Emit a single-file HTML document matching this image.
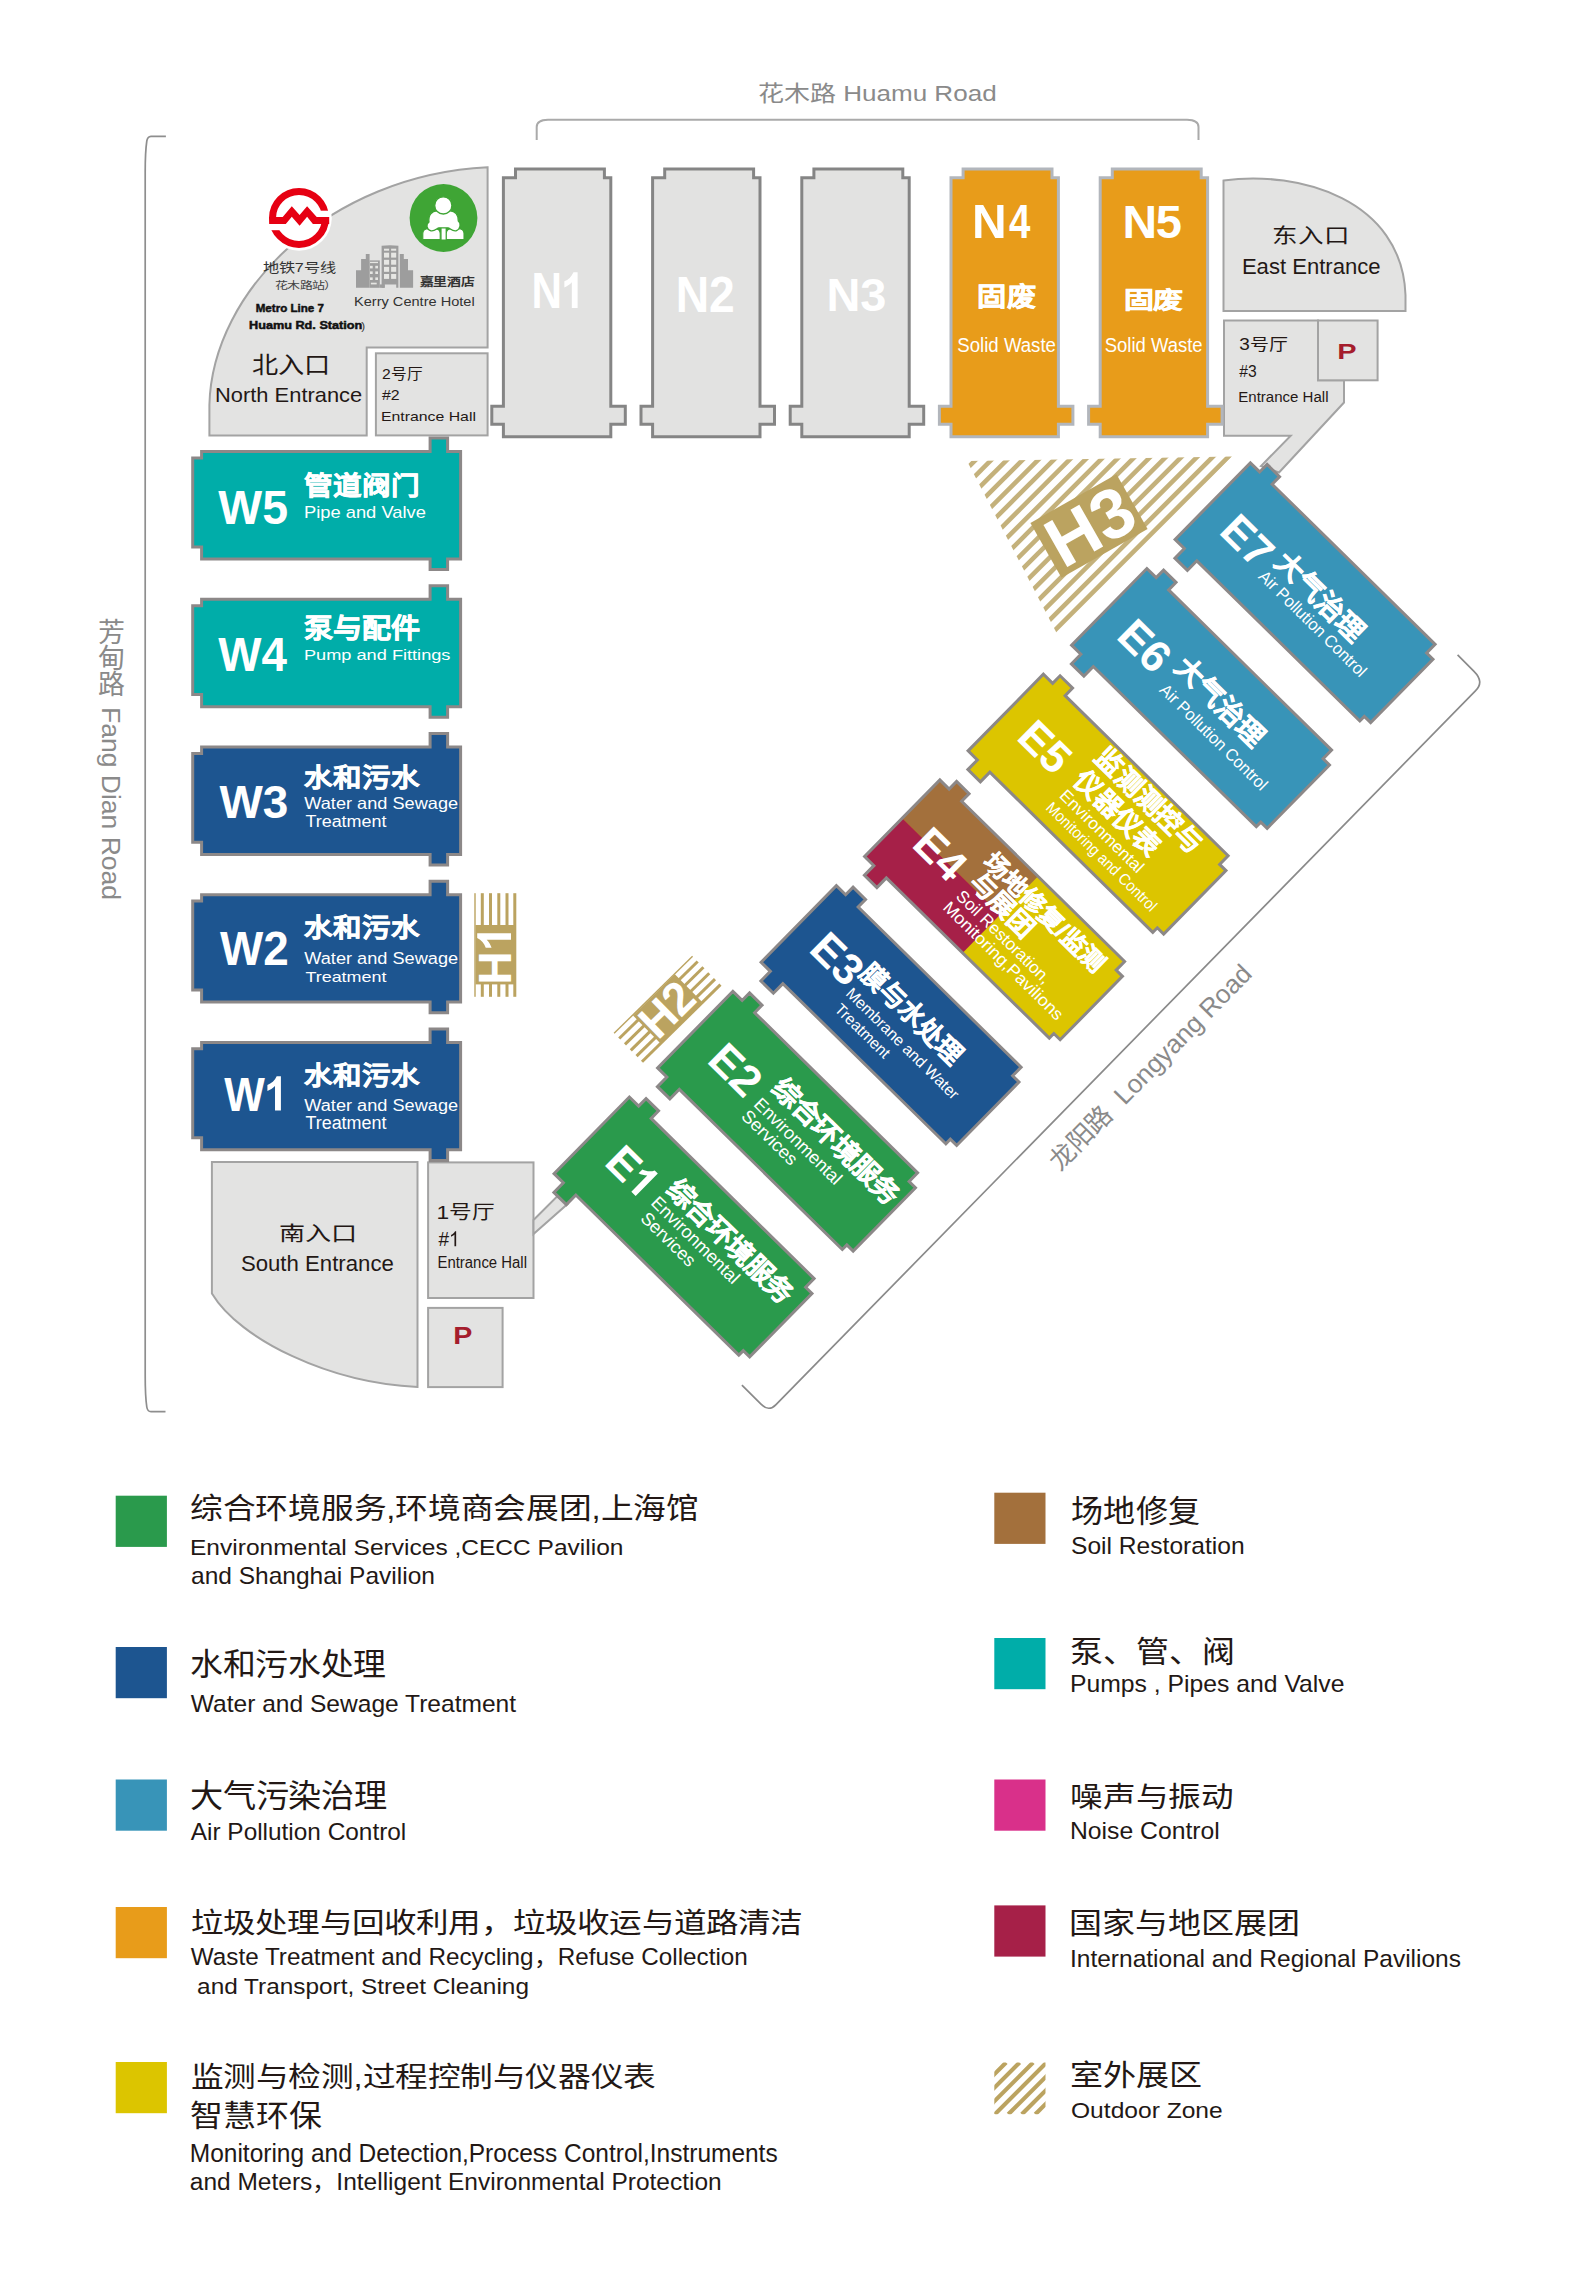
<!DOCTYPE html><html lang="zh-CN"><head><meta charset="utf-8"><style>
html,body{margin:0;padding:0;background:#fff;}
svg{display:block;font-family:'Liberation Sans', sans-serif;}
</style></head><body>
<svg width="1575" height="2283" viewBox="0 0 1575 2283">
<path d="M536.7,140 V127 Q536.7,120 548,119.8 H1187 Q1198.5,120 1198.5,127 V140" fill="none" stroke="#aaaaaa" stroke-width="2"/>
<path d="M165.9,136.3 H151 Q147.5,136.5 146.8,141 Q145.2,152 145.2,172 V1376 Q145.2,1396 146.8,1407 Q147.5,1411.5 151,1411.7 H165.5" fill="none" stroke="#8e8e8e" stroke-width="1.7"/>
<path d="M741.9,1385.1 L761,1404.2 Q768.9,1412.1 776,1404.6 L1475.4,690.9 Q1484.7,682 1474,671.3 L1457.6,654.9" fill="none" stroke="#8a8a8a" stroke-width="1.7"/>
<text x="758.00" y="100.75" font-size="22.06" font-weight="normal" fill="#8a8a8a" textLength="238.62" lengthAdjust="spacingAndGlyphs" >花木路 Huamu Road</text>
<g fill="#8a8a8a" font-size="26">
<text x="111.2" y="642.0" text-anchor="middle" font-size="27">芳</text>
<text x="111.2" y="667.8" text-anchor="middle" font-size="27">甸</text>
<text x="111.2" y="693.6" text-anchor="middle" font-size="27">路</text>
<text transform="translate(101.5,707) rotate(90)" font-size="26" textLength="193" lengthAdjust="spacingAndGlyphs">Fang Dian Road</text>
</g>
<text transform="translate(1060,1172) rotate(-45.5)" font-size="26" fill="#8a8a8a" xml:space="preserve">龙阳路  Longyang Road</text>
<path d="M209.4,435.4 V405 C212,290 330,175 487.6,167.3 V347.4 H366.7 V435.4 Z" fill="#e3e3e2" stroke="#a3a3a3" stroke-width="2"/>
<rect x="375.9" y="353.3" width="111.7" height="82.1" fill="#e3e3e2" stroke="#a3a3a3" stroke-width="2"/>
<circle cx="299" cy="217.9" r="32.8" fill="#fff"/>
<circle cx="299" cy="217.9" r="26.5" fill="none" stroke="#e60012" stroke-width="7"/>
<rect x="299" y="210.7" width="32" height="6.4" fill="#fff"/>
<rect x="266" y="224.0" width="33" height="6.2" fill="#fff"/>
<polygon fill="#e60012" points="269.3,217.1 282.7,217.1 291.8,206.2 299.6,215.1 307.1,206.2 316.7,217.1 329.2,217.1 329.2,224.0 312.9,224.0 307.1,216.7 299.6,225.8 291.8,216.7 285.8,224.0 269.3,224.0"/>
<circle cx="443.5" cy="218" r="33.9" fill="#3fa535"/>
<g fill="#fff" stroke="#3fa535" stroke-width="1.1">
<path d="M422.8,239.6 V233.6 C422.8,230.6 425,228.8 428.5,228.8 H434.5 C438,228.8 440.2,230.6 440.2,233.6 V239.6 Z"/>
<path d="M446.3,239.6 V233.6 C446.3,230.6 448.5,228.8 452,228.8 H458.3 C461.8,228.8 464,230.6 464,233.6 V239.6 Z"/>
</g>
<rect x="441.6" y="227.5" width="4" height="12" fill="#fff"/>
<path d="M429,222 C428,215 432,210.8 437,210.8 H450 C455,210.8 458.6,215 458.3,221 C461,223 461,229 456,230.8 C452,231.5 450,228 448,227.8 H439 C437,228 435,231.5 431,230.8 C426,229.5 426,224 429,222 Z" fill="#fff" stroke="#3fa535" stroke-width="1.3"/>
<circle cx="443.3" cy="205.4" r="8.6" fill="#fff" stroke="#3fa535" stroke-width="1.3"/>
<g fill="#9d9d9d">
<path d="M356,287.8 V270.2 H361.1 V259.1 H365.8 V254 H369.6 V287.8 Z"/>
<rect x="369.6" y="260.4" width="10.2" height="27.4"/>
<rect x="379.8" y="284.4" width="4.9" height="3.4"/>
<path d="M381.6,287.8 V245.8 Q390,244.9 398.4,245.8 V287.8 H396.2 V284.4 H384.7 V287.8 Z"/>
<path d="M399.8,287.8 V254 H403.8 V259.1 H408 V270.2 H413.1 V287.8 Z"/>
</g>
<g fill="#e6e6e3">
<rect x="370.0" y="265.8" width="2.7" height="2.6"/>
<rect x="370.0" y="271.4" width="2.7" height="2.6"/>
<rect x="370.0" y="277.4" width="2.7" height="2.6"/>
<rect x="375.3" y="265.8" width="2.7" height="2.6"/>
<rect x="375.3" y="271.4" width="2.7" height="2.6"/>
<rect x="375.3" y="277.4" width="2.7" height="2.6"/>
<rect x="370" y="261.8" width="8" height="1.3"/>
<rect x="370.9" y="282.7" width="5.8" height="1.7"/>
<rect x="384.0" y="248.7" width="5.1" height="2"/>
<rect x="384.0" y="252.7" width="5.1" height="4.9"/>
<rect x="384.0" y="259.8" width="5.1" height="4.9"/>
<rect x="384.0" y="266.9" width="5.1" height="4.9"/>
<rect x="384.0" y="274.0" width="5.1" height="4.9"/>
<rect x="391.1" y="248.7" width="5.1" height="2"/>
<rect x="391.1" y="252.7" width="5.1" height="4.9"/>
<rect x="391.1" y="259.8" width="5.1" height="4.9"/>
<rect x="391.1" y="266.9" width="5.1" height="4.9"/>
<rect x="391.1" y="274.0" width="5.1" height="4.9"/>
</g>
<text x="262.50" y="271.90" font-size="13.05" font-weight="normal" fill="#333" textLength="73.54" lengthAdjust="spacingAndGlyphs" >地铁7号线</text>
<text x="274.90" y="289.45" font-size="10.51" font-weight="normal" fill="#444" textLength="61.80" lengthAdjust="spacingAndGlyphs" >花木路站）</text>
<text x="419.80" y="285.92" font-size="11.20" font-weight="bold" fill="#333" textLength="54.40" lengthAdjust="spacingAndGlyphs" >嘉里酒店</text>
<text x="354.00" y="305.70" font-size="12.94" font-weight="normal" fill="#333" textLength="120.68" lengthAdjust="spacingAndGlyphs" >Kerry Centre Hotel</text>
<text x="252.40" y="372.92" font-size="23.20" font-weight="normal" fill="#231815" textLength="77.80" lengthAdjust="spacingAndGlyphs" >北入口</text>
<text x="215.00" y="402.20" font-size="21.00" font-weight="normal" fill="#231815" textLength="147.25" lengthAdjust="spacingAndGlyphs" >North Entrance</text>
<text x="381.90" y="378.83" font-size="14.82" font-weight="normal" fill="#231815" textLength="40.54" lengthAdjust="spacingAndGlyphs" >2号厅</text>
<text x="381.90" y="400.40" font-size="15.32" font-weight="normal" fill="#231815" textLength="17.69" lengthAdjust="spacingAndGlyphs" >#2</text>
<text x="380.90" y="421.40" font-size="13.47" font-weight="normal" fill="#231815" textLength="95.05" lengthAdjust="spacingAndGlyphs" >Entrance Hall</text>
<text x="255.70" y="312.30" font-size="10.63" font-weight="bold" fill="#111" textLength="68.24" lengthAdjust="spacingAndGlyphs" stroke="#111" stroke-width="0.45">Metro Line 7</text>
<text x="249.00" y="329.30" font-size="10.09" font-weight="bold" fill="#111" textLength="113.32" lengthAdjust="spacingAndGlyphs" stroke="#111" stroke-width="0.45">Huamu Rd. Station</text>
<text x="361.3" y="329.6" font-size="11.5" fill="#333">)</text>
<path d="M1223.5,180.5 C1300,170 1402,200 1405.5,295 V311 H1223.5 Z" fill="#e3e3e2" stroke="#a3a3a3" stroke-width="2"/>
<path d="M1224,320.5 H1318 V380.3 H1344 V402.5 L1279,472.5 L1261,466 L1290.7,435.7 H1224 Z" fill="#e3e3e2" stroke="#a3a3a3" stroke-width="2"/>
<rect x="1318" y="320.5" width="59.6" height="59.8" fill="#e3e3e2" stroke="#a3a3a3" stroke-width="2"/>
<text x="1272.40" y="242.80" font-size="20.70" font-weight="normal" fill="#231815" textLength="77.60" lengthAdjust="spacingAndGlyphs" >东入口</text>
<text x="1241.90" y="274.40" font-size="21.64" font-weight="normal" fill="#231815" textLength="138.71" lengthAdjust="spacingAndGlyphs" >East Entrance</text>
<text x="1239.30" y="350.18" font-size="15.84" font-weight="normal" fill="#231815" textLength="48.91" lengthAdjust="spacingAndGlyphs" >3号厅</text>
<text x="1239.30" y="377.20" font-size="16.02" font-weight="normal" fill="#231815" textLength="17.40" lengthAdjust="spacingAndGlyphs" >#3</text>
<text x="1238.30" y="401.80" font-size="14.66" font-weight="normal" fill="#231815" textLength="90.21" lengthAdjust="spacingAndGlyphs" >Entrance Hall</text>
<text x="1337.30" y="359.40" font-size="22.60" font-weight="bold" fill="#a51d2d" textLength="19.34" lengthAdjust="spacingAndGlyphs" >P</text>
<rect x="428.1" y="1162.4" width="105.4" height="135.6" fill="#e3e3e2" stroke="#a3a3a3" stroke-width="2"/>
<path d="M533.5,1220 L557,1196.5 L567.5,1204 L533.5,1234 Z" fill="#e3e3e2" stroke="#a3a3a3" stroke-width="2"/>
<path d="M211.9,1161.9 H417.5 V1387 C330,1383 240,1340 211.9,1293.4 Z" fill="#e3e3e2" stroke="#a3a3a3" stroke-width="2"/>
<rect x="428.1" y="1307.9" width="74.5" height="79.2" fill="#e3e3e2" stroke="#a3a3a3" stroke-width="2"/>
<text x="279.00" y="1240.74" font-size="20.25" font-weight="normal" fill="#231815" textLength="77.40" lengthAdjust="spacingAndGlyphs" >南入口</text>
<text x="240.90" y="1270.80" font-size="21.32" font-weight="normal" fill="#231815" textLength="152.97" lengthAdjust="spacingAndGlyphs" >South Entrance</text>
<text x="436.50" y="1218.89" font-size="18.79" font-weight="normal" fill="#231815" textLength="58.58" lengthAdjust="spacingAndGlyphs" >1号厅</text>
<text x="437.50" y="1268.30" font-size="15.84" font-weight="normal" fill="#231815" textLength="89.45" lengthAdjust="spacingAndGlyphs" >Entrance Hall</text>
<text x="453.30" y="1344.00" font-size="24.75" font-weight="bold" fill="#a51d2d" textLength="19.09" lengthAdjust="spacingAndGlyphs" >P</text>
<text x="438.50" y="1246.20" font-size="20.44" font-weight="normal" fill="#231815" textLength="10.57" lengthAdjust="spacingAndGlyphs" >#</text><path d="M0.3726,0 H0.2832 V0.5742 C0.2617,0.5537 0.2334,0.5332 0.1982,0.5127 C0.1631,0.4922 0.1318,0.4771 0.1040,0.4668 V0.5537 C0.1540,0.5771 0.1978,0.6055 0.2354,0.6387 C0.2729,0.6719 0.2995,0.7041 0.3149,0.7354 H0.3726 Z" transform="translate(449.07,1246.20) scale(19.011,-20.439)" fill="#231815"/>
<path d="M0,0 H228.5 V-14.5 H246.5 V0 H259 V107.4 H246.5 V119 H228.5 V107.4 H0 V95.3 H-8.9 V6.4 H0 Z" transform="translate(610.8,177.8) rotate(90)" fill="#e2e2e1" stroke="#858585" stroke-width="3"/>
<path d="M0,0 H228.5 V-14.5 H246.5 V0 H259 V107.4 H246.5 V119 H228.5 V107.4 H0 V95.3 H-8.9 V6.4 H0 Z" transform="translate(760.0,177.8) rotate(90)" fill="#e2e2e1" stroke="#858585" stroke-width="3"/>
<path d="M0,0 H228.5 V-14.5 H246.5 V0 H259 V107.4 H246.5 V119 H228.5 V107.4 H0 V95.3 H-8.9 V6.4 H0 Z" transform="translate(909.1999999999999,177.8) rotate(90)" fill="#e2e2e1" stroke="#858585" stroke-width="3"/>
<path d="M0,0 H228.5 V-14.5 H246.5 V0 H259 V107.4 H246.5 V119 H228.5 V107.4 H0 V95.3 H-8.9 V6.4 H0 Z" transform="translate(1058.3999999999999,177.8) rotate(90)" fill="#e89c1a" stroke="#b2b6bc" stroke-width="3"/>
<path d="M0,0 H228.5 V-14.5 H246.5 V0 H259 V107.4 H246.5 V119 H228.5 V107.4 H0 V95.3 H-8.9 V6.4 H0 Z" transform="translate(1207.6,177.8) rotate(90)" fill="#e89c1a" stroke="#b2b6bc" stroke-width="3"/>
<text x="531.40" y="308.10" font-size="49.84" font-weight="bold" fill="#fff" textLength="30.48" lengthAdjust="spacingAndGlyphs" >N</text><path d="M0.3726,0 H0.2354 V0.517 C0.186,0.470 0.120,0.432 0.0586,0.413 V0.5376 C0.150,0.567 0.232,0.630 0.274,0.719 H0.3726 Z" transform="translate(561.88,308.10) scale(42.222,-49.843)" fill="#fff"/>
<text x="675.70" y="311.50" font-size="49.30" font-weight="bold" fill="#fff" textLength="59.16" lengthAdjust="spacingAndGlyphs" >N2</text>
<text x="826.50" y="311.30" font-size="46.88" font-weight="bold" fill="#fff" textLength="59.96" lengthAdjust="spacingAndGlyphs" >N3</text>
<text x="972.00" y="237.70" font-size="48.72" font-weight="bold" fill="#fff" textLength="34.63" lengthAdjust="spacingAndGlyphs" >N</text>
<text x="1008.90" y="237.70" font-size="48.72" font-weight="bold" fill="#fff" textLength="21.39" lengthAdjust="spacingAndGlyphs" >4</text>
<text x="1122.40" y="237.60" font-size="46.76" font-weight="bold" fill="#fff" textLength="34.63" lengthAdjust="spacingAndGlyphs" >N</text>
<text x="1155.80" y="237.60" font-size="46.76" font-weight="bold" fill="#fff" textLength="26.19" lengthAdjust="spacingAndGlyphs" >5</text>
<text x="957.30" y="351.90" font-size="19.30" font-weight="normal" fill="#fff" textLength="98.67" lengthAdjust="spacingAndGlyphs" >Solid Waste</text>
<text x="1104.70" y="351.80" font-size="19.30" font-weight="normal" fill="#fff" textLength="97.87" lengthAdjust="spacingAndGlyphs" >Solid Waste</text>
<text x="977.40" y="305.55" font-size="25.82" font-weight="bold" fill="#fff" textLength="58.80" lengthAdjust="spacingAndGlyphs" stroke="#fff" stroke-width="0.5">固废</text>
<text x="1123.90" y="307.93" font-size="22.41" font-weight="bold" fill="#fff" textLength="58.80" lengthAdjust="spacingAndGlyphs" stroke="#fff" stroke-width="0.5">固废</text>
<path d="M0,0 H228.5 V-13.5 H246 V0 H259 V107.4 H246 V118 H228.5 V107.4 H0 V95.3 H-8.9 V6.4 H0 Z" transform="translate(201.6,451.6)" fill="#00ada9" stroke="#8c8888" stroke-width="3"/>
<path d="M0,0 H228.5 V-13.5 H246 V0 H259 V107.4 H246 V118 H228.5 V107.4 H0 V95.3 H-8.9 V6.4 H0 Z" transform="translate(201.6,599.3)" fill="#00ada9" stroke="#8c8888" stroke-width="3"/>
<path d="M0,0 H228.5 V-13.5 H246 V0 H259 V107.4 H246 V118 H228.5 V107.4 H0 V95.3 H-8.9 V6.4 H0 Z" transform="translate(201.6,747.0)" fill="#1d5590" stroke="#8c8888" stroke-width="3"/>
<path d="M0,0 H228.5 V-13.5 H246 V0 H259 V107.4 H246 V118 H228.5 V107.4 H0 V95.3 H-8.9 V6.4 H0 Z" transform="translate(201.6,894.7)" fill="#1d5590" stroke="#8c8888" stroke-width="3"/>
<path d="M0,0 H228.5 V-13.5 H246 V0 H259 V107.4 H246 V118 H228.5 V107.4 H0 V95.3 H-8.9 V6.4 H0 Z" transform="translate(201.6,1042.4)" fill="#1d5590" stroke="#8c8888" stroke-width="3"/>
<text x="218.30" y="524.00" font-size="47.77" font-weight="bold" fill="#fff" textLength="69.70" lengthAdjust="spacingAndGlyphs" >W5</text>
<text x="218.30" y="671.40" font-size="48.45" font-weight="bold" fill="#fff" textLength="68.70" lengthAdjust="spacingAndGlyphs" >W4</text>
<text x="219.40" y="818.00" font-size="46.95" font-weight="bold" fill="#fff" textLength="68.90" lengthAdjust="spacingAndGlyphs" >W3</text>
<text x="220.00" y="964.80" font-size="48.01" font-weight="bold" fill="#fff" textLength="68.70" lengthAdjust="spacingAndGlyphs" >W2</text>
<text x="304.00" y="517.50" font-size="16.10" font-weight="normal" fill="#fff" textLength="121.84" lengthAdjust="spacingAndGlyphs" >Pipe and Valve</text>
<text x="304.00" y="660.30" font-size="15.19" font-weight="normal" fill="#fff" textLength="146.45" lengthAdjust="spacingAndGlyphs" >Pump and Fittings</text>
<text x="304.30" y="808.90" font-size="15.67" font-weight="normal" fill="#fff" textLength="153.79" lengthAdjust="spacingAndGlyphs" >Water and Sewage</text>
<text x="305.40" y="827.40" font-size="16.24" font-weight="normal" fill="#fff" textLength="81.11" lengthAdjust="spacingAndGlyphs" >Treatment</text>
<text x="304.30" y="964.00" font-size="16.52" font-weight="normal" fill="#fff" textLength="153.79" lengthAdjust="spacingAndGlyphs" >Water and Sewage</text>
<text x="305.40" y="982.30" font-size="15.42" font-weight="normal" fill="#fff" textLength="81.11" lengthAdjust="spacingAndGlyphs" >Treatment</text>
<text x="304.30" y="1110.60" font-size="15.63" font-weight="normal" fill="#fff" textLength="153.79" lengthAdjust="spacingAndGlyphs" >Water and Sewage</text>
<text x="305.40" y="1128.60" font-size="17.54" font-weight="normal" fill="#fff" textLength="81.11" lengthAdjust="spacingAndGlyphs" >Treatment</text>
<text x="224.30" y="1110.60" font-size="47.75" font-weight="bold" fill="#fff" textLength="40.59" lengthAdjust="spacingAndGlyphs" >W</text><path d="M0.3726,0 H0.2354 V0.517 C0.186,0.470 0.120,0.432 0.0586,0.413 V0.5376 C0.150,0.567 0.232,0.630 0.274,0.719 H0.3726 Z" transform="translate(264.89,1110.60) scale(43.000,-47.755)" fill="#fff"/>
<text x="304.30" y="494.54" font-size="26.56" font-weight="bold" fill="#fff" textLength="116.20" lengthAdjust="spacingAndGlyphs" stroke="#fff" stroke-width="0.5">管道阀门</text>
<text x="304.30" y="637.87" font-size="27.25" font-weight="bold" fill="#fff" textLength="115.20" lengthAdjust="spacingAndGlyphs" stroke="#fff" stroke-width="0.5">泵与配件</text>
<text x="304.30" y="786.61" font-size="25.67" font-weight="bold" fill="#fff" textLength="115.20" lengthAdjust="spacingAndGlyphs" stroke="#fff" stroke-width="0.5">水和污水</text>
<text x="304.30" y="936.50" font-size="25.67" font-weight="bold" fill="#fff" textLength="115.20" lengthAdjust="spacingAndGlyphs" stroke="#fff" stroke-width="0.5">水和污水</text>
<text x="304.30" y="1084.84" font-size="25.67" font-weight="bold" fill="#fff" textLength="115.20" lengthAdjust="spacingAndGlyphs" stroke="#fff" stroke-width="0.5">水和污水</text>
<g transform="translate(494.5,945) rotate(0)">
<rect x="-20.2" y="-51.8" width="1.4" height="103.6" fill="#bba360"/>
<rect x="-13.7" y="-51.8" width="3" height="103.6" fill="#bba360"/>
<rect x="-5.5" y="-51.8" width="3" height="103.6" fill="#bba360"/>
<rect x="2.8" y="-51.8" width="3" height="103.6" fill="#bba360"/>
<rect x="11.0" y="-51.8" width="3" height="103.6" fill="#bba360"/>
<rect x="18.8" y="-51.8" width="3" height="103.6" fill="#bba360"/>
<rect x="-19" y="-20" width="38.6" height="59.4" fill="#bba360"/>
<g transform="rotate(-90)"><text x="-39.5" y="16.5" font-size="47" font-weight="bold" fill="#fff" textLength="33" lengthAdjust="spacingAndGlyphs">H</text><path d="M0.3726,0 H0.2354 V0.517 C0.186,0.470 0.120,0.432 0.0586,0.413 V0.5376 C0.150,0.567 0.232,0.630 0.274,0.719 H0.3726 Z" transform="translate(-5.5,16.5) scale(46,-47)" fill="#fff"/></g>
</g>
<g transform="translate(667,1008.7) rotate(45.5)">
<rect x="-20.2" y="-55" width="1.4" height="110" fill="#bba360"/>
<rect x="-13.7" y="-55" width="3" height="110" fill="#bba360"/>
<rect x="-5.5" y="-55" width="3" height="110" fill="#bba360"/>
<rect x="2.8" y="-55" width="3" height="110" fill="#bba360"/>
<rect x="11.0" y="-55" width="3" height="110" fill="#bba360"/>
<rect x="18.8" y="-55" width="3" height="110" fill="#bba360"/>
<rect x="-19" y="-29.7" width="38.6" height="58.7" fill="#bba360"/>
<text transform="rotate(-90)" x="-29" y="16.5" font-size="47" font-weight="bold" fill="#fff" textLength="57" lengthAdjust="spacingAndGlyphs">H2</text>
</g>
<defs><clipPath id="h3clip"><polygon points="967,461 1232,456.6 1058.7,637"/></clipPath></defs>
<g clip-path="url(#h3clip)" stroke="#c4b17b" stroke-width="4.6">
<line x1="964.4000000000001" y1="440" x2="744.4000000000001" y2="660"/>
<line x1="980.0" y1="440" x2="760.0" y2="660"/>
<line x1="995.5999999999999" y1="440" x2="775.5999999999999" y2="660"/>
<line x1="1011.1999999999998" y1="440" x2="791.1999999999998" y2="660"/>
<line x1="1026.7999999999997" y1="440" x2="806.7999999999997" y2="660"/>
<line x1="1042.3999999999996" y1="440" x2="822.3999999999996" y2="660"/>
<line x1="1057.9999999999995" y1="440" x2="837.9999999999995" y2="660"/>
<line x1="1073.5999999999995" y1="440" x2="853.5999999999995" y2="660"/>
<line x1="1089.1999999999994" y1="440" x2="869.1999999999994" y2="660"/>
<line x1="1104.7999999999993" y1="440" x2="884.7999999999993" y2="660"/>
<line x1="1120.3999999999992" y1="440" x2="900.3999999999992" y2="660"/>
<line x1="1135.999999999999" y1="440" x2="915.9999999999991" y2="660"/>
<line x1="1151.599999999999" y1="440" x2="931.599999999999" y2="660"/>
<line x1="1167.199999999999" y1="440" x2="947.1999999999989" y2="660"/>
<line x1="1182.7999999999988" y1="440" x2="962.7999999999988" y2="660"/>
<line x1="1198.3999999999987" y1="440" x2="978.3999999999987" y2="660"/>
<line x1="1213.9999999999986" y1="440" x2="993.9999999999986" y2="660"/>
<line x1="1229.5999999999985" y1="440" x2="1009.5999999999985" y2="660"/>
<line x1="1245.1999999999985" y1="440" x2="1025.1999999999985" y2="660"/>
</g>
<g transform="translate(1089,526) rotate(-29.6)"><rect x="-49.5" y="-31.5" width="99" height="63" fill="#bba360"/>
<text x="1" y="25" font-size="70" font-weight="bold" fill="#fff" text-anchor="middle">H3</text></g>
<g transform="translate(684.1,1226.1) rotate(44.5)">
<path d="M0,0 H228.5 V-13.5 H246 V0 H259 V107.4 H246 V118 H228.5 V107.4 H0 V95.3 H-8.9 V6.4 H0 Z" transform="rotate(180) translate(-129.5,-53.7)" fill="#2a9a4c" stroke="#8c8888" stroke-width="3"/>
<text x="-101.4" y="12.5" font-size="44" fill="#fff" font-weight="bold" text-anchor="start" >E</text>
<path d="M0.3726,0 H0.2354 V0.517 C0.186,0.470 0.120,0.432 0.0586,0.413 V0.5376 C0.150,0.567 0.232,0.630 0.274,0.719 H0.3726 Z" transform="translate(-72.05,12.5) scale(44,-44)" fill="#fff"/>
<text x="-38.5" y="-12" font-size="27.5" fill="#fff" font-weight="bold" text-anchor="start" textLength="163" lengthAdjust="spacingAndGlyphs" stroke="#fff" stroke-width="0.5">综合环境服务</text>
<text x="-40" y="8" font-size="18" fill="#fff" font-weight="normal" text-anchor="start" textLength="116" lengthAdjust="spacingAndGlyphs">Environmental</text>
<text x="-36.5" y="26.5" font-size="18" fill="#fff" font-weight="normal" text-anchor="start" textLength="69" lengthAdjust="spacingAndGlyphs">Services</text>
</g>
<g transform="translate(787.6,1120.4) rotate(44.5)">
<path d="M0,0 H228.5 V-13.5 H246 V0 H259 V107.4 H246 V118 H228.5 V107.4 H0 V95.3 H-8.9 V6.4 H0 Z" transform="rotate(180) translate(-129.5,-53.7)" fill="#2a9a4c" stroke="#8c8888" stroke-width="3"/>
<text x="-99.4" y="15.5" font-size="44" fill="#fff" font-weight="bold" text-anchor="start" >E2</text>
<text x="-34.3" y="-9.5" font-size="27.5" fill="#fff" font-weight="bold" text-anchor="start" textLength="166" lengthAdjust="spacingAndGlyphs" stroke="#fff" stroke-width="0.5">综合环境服务</text>
<text x="-35.5" y="13.5" font-size="18" fill="#fff" font-weight="normal" text-anchor="start" textLength="115" lengthAdjust="spacingAndGlyphs">Environmental</text>
<text x="-36" y="30.8" font-size="18" fill="#fff" font-weight="normal" text-anchor="start" textLength="70.5" lengthAdjust="spacingAndGlyphs">Services</text>
</g>
<g transform="translate(891.1,1014.7) rotate(44.5)">
<path d="M0,0 H228.5 V-13.5 H246 V0 H259 V107.4 H246 V118 H228.5 V107.4 H0 V95.3 H-8.9 V6.4 H0 Z" transform="rotate(180) translate(-129.5,-53.7)" fill="#1d5590" stroke="#8c8888" stroke-width="3"/>
<text x="-104.5" y="13" font-size="44" fill="#fff" font-weight="bold" text-anchor="start" >E3</text>
<text x="-51.5" y="-5.4" font-size="27" fill="#fff" font-weight="bold" text-anchor="start" textLength="131" lengthAdjust="spacingAndGlyphs" stroke="#fff" stroke-width="0.5">膜与水处理</text>
<text x="-47" y="18" font-size="16" fill="#fff" font-weight="normal" text-anchor="start" textLength="151" lengthAdjust="spacingAndGlyphs">Membrane and Water</text>
<text x="-44" y="37" font-size="16" fill="#fff" font-weight="normal" text-anchor="start" textLength="70" lengthAdjust="spacingAndGlyphs">Treatment</text>
</g>
<g transform="translate(994.6,909.0) rotate(44.5)">
<defs><clipPath id="e4clip"><path d="M0,0 H228.5 V-13.5 H246 V0 H259 V107.4 H246 V118 H228.5 V107.4 H0 V95.3 H-8.9 V6.4 H0 Z" transform="rotate(180) translate(-129.5,-53.7)"/></clipPath></defs>
<g clip-path="url(#e4clip)"><rect x="-150" y="-70" width="300" height="140" fill="#dcc500"/><rect x="-150" y="-70" width="158" height="70" fill="#a3703c"/><rect x="-150" y="0" width="158" height="70" fill="#a62048"/></g>
<path d="M0,0 H228.5 V-13.5 H246 V0 H259 V107.4 H246 V118 H228.5 V107.4 H0 V95.3 H-8.9 V6.4 H0 Z" transform="rotate(180) translate(-129.5,-53.7)" fill="none" stroke="#8c8888" stroke-width="3"/>
<text x="-104" y="14" font-size="44" fill="#fff" font-weight="bold" text-anchor="start" >E4</text>
<text x="-41" y="-24" font-size="24.2" fill="#fff" font-weight="bold" text-anchor="start" textLength="158" lengthAdjust="spacingAndGlyphs" stroke="#fff" stroke-width="0.5">场地修复/监测</text>
<text x="-37" y="1" font-size="26" fill="#fff" font-weight="bold" text-anchor="start" textLength="79" lengthAdjust="spacingAndGlyphs" stroke="#fff" stroke-width="0.5">与展团</text>
<text x="-36.5" y="19.3" font-size="17" fill="#fff" font-weight="normal" text-anchor="start" textLength="125" lengthAdjust="spacingAndGlyphs">Soil Restoration,</text>
<text x="-38" y="36.5" font-size="17" fill="#fff" font-weight="normal" text-anchor="start" textLength="161" lengthAdjust="spacingAndGlyphs">Monitoring,Pavilions</text>
</g>
<g transform="translate(1098.1,803.3) rotate(44.5)">
<path d="M0,0 H228.5 V-13.5 H246 V0 H259 V107.4 H246 V118 H228.5 V107.4 H0 V95.3 H-8.9 V6.4 H0 Z" transform="rotate(180) translate(-129.5,-53.7)" fill="#dcc500" stroke="#8c8888" stroke-width="3"/>
<text x="-104.4" y="12" font-size="44" fill="#fff" font-weight="bold" text-anchor="start" >E5</text>
<text x="-34" y="-28" font-size="27" fill="#fff" font-weight="bold" text-anchor="start" textLength="137" lengthAdjust="spacingAndGlyphs" stroke="#fff" stroke-width="0.5">监测测控与</text>
<text x="-33" y="3" font-size="27" fill="#fff" font-weight="bold" text-anchor="start" textLength="108" lengthAdjust="spacingAndGlyphs" stroke="#fff" stroke-width="0.5">仪器仪表</text>
<text x="-33" y="23" font-size="17" fill="#fff" font-weight="normal" text-anchor="start" textLength="110.5" lengthAdjust="spacingAndGlyphs">Environmental</text>
<text x="-34" y="41" font-size="16" fill="#fff" font-weight="normal" text-anchor="start" textLength="148" lengthAdjust="spacingAndGlyphs">Monitoring and Control</text>
</g>
<g transform="translate(1201.6,697.6) rotate(44.5)">
<path d="M0,0 H228.5 V-13.5 H246 V0 H259 V107.4 H246 V118 H228.5 V107.4 H0 V95.3 H-8.9 V6.4 H0 Z" transform="rotate(180) translate(-129.5,-53.7)" fill="#3894b8" stroke="#8c8888" stroke-width="3"/>
<text x="-103.7" y="18" font-size="44" fill="#fff" font-weight="bold" text-anchor="start" >E6</text>
<text x="-40.5" y="0" font-size="28" fill="#fff" font-weight="bold" text-anchor="start" textLength="113" lengthAdjust="spacingAndGlyphs" stroke="#fff" stroke-width="0.5">大气治理</text>
<text x="-35.5" y="25.5" font-size="17" fill="#fff" font-weight="normal" text-anchor="start" textLength="143.5" lengthAdjust="spacingAndGlyphs">Air Pollution Control</text>
</g>
<g transform="translate(1305.1,591.9) rotate(44.5)">
<path d="M0,0 H228.5 V-13.5 H246 V0 H259 V107.4 H246 V118 H228.5 V107.4 H0 V95.3 H-8.9 V6.4 H0 Z" transform="rotate(180) translate(-129.5,-53.7)" fill="#3894b8" stroke="#8c8888" stroke-width="3"/>
<text x="-103.9" y="19" font-size="44" fill="#fff" font-weight="bold" text-anchor="start" >E7</text>
<text x="-42.5" y="3" font-size="28" fill="#fff" font-weight="bold" text-anchor="start" textLength="113" lengthAdjust="spacingAndGlyphs" stroke="#fff" stroke-width="0.5">大气治理</text>
<text x="-44" y="23" font-size="17" fill="#fff" font-weight="normal" text-anchor="start" textLength="143.5" lengthAdjust="spacingAndGlyphs">Air Pollution Control</text>
</g>
<rect x="115.7" y="1495.7" width="51.2" height="51.2" fill="#2a9a4c"/>
<rect x="115.7" y="1647" width="51.2" height="51.2" fill="#1d5590"/>
<rect x="115.7" y="1779.5" width="51.2" height="51.2" fill="#3894b8"/>
<rect x="115.7" y="1907" width="51.2" height="51.2" fill="#e89c1a"/>
<rect x="115.7" y="2062" width="51.2" height="51.2" fill="#dcc500"/>
<rect x="994.3" y="1492.7" width="51.2" height="51.2" fill="#a3703c"/>
<rect x="994.3" y="1638" width="51.2" height="51.2" fill="#00ada9"/>
<rect x="994.3" y="1779.5" width="51.2" height="51.2" fill="#d9308a"/>
<rect x="994.3" y="1905.4" width="51.2" height="51.2" fill="#a62048"/>
<defs><clipPath id="swclip"><rect x="994.3" y="2062.5" width="51.2" height="51.8"/></clipPath></defs>
<g clip-path="url(#swclip)" stroke="#bba360" stroke-width="4.2">
<line x1="927.3000000000002" y1="2114.3" x2="979.1000000000004" y2="2062.5"/>
<line x1="940.8000000000002" y1="2114.3" x2="992.6000000000004" y2="2062.5"/>
<line x1="954.3000000000002" y1="2114.3" x2="1006.1000000000004" y2="2062.5"/>
<line x1="967.8000000000002" y1="2114.3" x2="1019.6000000000004" y2="2062.5"/>
<line x1="981.3000000000002" y1="2114.3" x2="1033.1000000000004" y2="2062.5"/>
<line x1="994.8000000000002" y1="2114.3" x2="1046.6000000000004" y2="2062.5"/>
<line x1="1008.3000000000002" y1="2114.3" x2="1060.1000000000004" y2="2062.5"/>
<line x1="1021.8000000000002" y1="2114.3" x2="1073.6000000000004" y2="2062.5"/>
<line x1="1035.3000000000002" y1="2114.3" x2="1087.1000000000004" y2="2062.5"/>
<line x1="1048.8000000000002" y1="2114.3" x2="1100.6000000000004" y2="2062.5"/>
</g>
<text x="190.00" y="1519.36" font-size="29.03" font-weight="normal" fill="#231815" textLength="508.78" lengthAdjust="spacingAndGlyphs" >综合环境服务,环境商会展团,上海馆</text>
<text x="190.00" y="1555.30" font-size="22.36" font-weight="normal" fill="#231815" textLength="433.50" lengthAdjust="spacingAndGlyphs" >Environmental Services ,CECC Pavilion</text>
<text x="191.00" y="1584.40" font-size="23.40" font-weight="normal" fill="#231815" textLength="243.91" lengthAdjust="spacingAndGlyphs" >and Shanghai Pavilion</text>
<text x="189.80" y="1675.10" font-size="31.17" font-weight="normal" fill="#231815" textLength="196.40" lengthAdjust="spacingAndGlyphs" >水和污水处理</text>
<text x="190.80" y="1712.00" font-size="24.07" font-weight="normal" fill="#231815" textLength="325.30" lengthAdjust="spacingAndGlyphs" >Water and Sewage Treatment</text>
<text x="189.80" y="1807.32" font-size="31.27" font-weight="normal" fill="#231815" textLength="197.40" lengthAdjust="spacingAndGlyphs" >大气污染治理</text>
<text x="190.80" y="1840.00" font-size="24.07" font-weight="normal" fill="#231815" textLength="215.47" lengthAdjust="spacingAndGlyphs" >Air Pollution Control</text>
<text x="190.80" y="1933.05" font-size="28.34" font-weight="normal" fill="#231815" textLength="611.80" lengthAdjust="spacingAndGlyphs" >垃圾处理与回收利用，垃圾收运与道路清洁</text>
<text x="190.80" y="1965.00" font-size="23.08" font-weight="normal" fill="#231815" textLength="556.99" lengthAdjust="spacingAndGlyphs" >Waste Treatment and Recycling，Refuse Collection</text>
<text x="197.10" y="1994.30" font-size="21.67" font-weight="normal" fill="#231815" textLength="331.85" lengthAdjust="spacingAndGlyphs" >and Transport, Street Cleaning</text>
<text x="190.80" y="2087.26" font-size="28.13" font-weight="normal" fill="#231815" textLength="464.83" lengthAdjust="spacingAndGlyphs" >监测与检测,过程控制与仪器仪表</text>
<text x="189.80" y="2126.43" font-size="29.99" font-weight="normal" fill="#231815" textLength="131.80" lengthAdjust="spacingAndGlyphs" >智慧环保</text>
<text x="189.80" y="2161.50" font-size="25.00" font-weight="normal" fill="#231815" textLength="587.87" lengthAdjust="spacingAndGlyphs" >Monitoring and Detection,Process Control,Instruments</text>
<text x="189.80" y="2190.30" font-size="23.45" font-weight="normal" fill="#231815" textLength="531.88" lengthAdjust="spacingAndGlyphs" >and Meters，Intelligent Environmental Protection</text>
<text x="1071.00" y="1522.24" font-size="30.81" font-weight="normal" fill="#231815" textLength="129.20" lengthAdjust="spacingAndGlyphs" >场地修复</text>
<text x="1071.00" y="1554.30" font-size="23.23" font-weight="normal" fill="#231815" textLength="173.56" lengthAdjust="spacingAndGlyphs" >Soil Restoration</text>
<text x="1070.00" y="1662.19" font-size="30.01" font-weight="normal" fill="#231815" textLength="165.00" lengthAdjust="spacingAndGlyphs" >泵、管、阀</text>
<text x="1070.00" y="1691.70" font-size="24.01" font-weight="normal" fill="#231815" textLength="274.48" lengthAdjust="spacingAndGlyphs" >Pumps , Pipes and Valve</text>
<text x="1070.00" y="1807.18" font-size="28.86" font-weight="normal" fill="#231815" textLength="163.80" lengthAdjust="spacingAndGlyphs" >噪声与振动</text>
<text x="1070.00" y="1838.80" font-size="23.08" font-weight="normal" fill="#231815" textLength="149.74" lengthAdjust="spacingAndGlyphs" >Noise Control</text>
<text x="1069.00" y="1934.10" font-size="29.04" font-weight="normal" fill="#231815" textLength="230.80" lengthAdjust="spacingAndGlyphs" >国家与地区展团</text>
<text x="1070.00" y="1966.50" font-size="24.40" font-weight="normal" fill="#231815" textLength="390.97" lengthAdjust="spacingAndGlyphs" >International and Regional Pavilions</text>
<text x="1070.00" y="2086.21" font-size="29.05" font-weight="normal" fill="#231815" textLength="132.00" lengthAdjust="spacingAndGlyphs" >室外展区</text>
<text x="1071.00" y="2118.00" font-size="21.94" font-weight="normal" fill="#231815" textLength="151.72" lengthAdjust="spacingAndGlyphs" >Outdoor Zone</text>
</svg></body></html>
